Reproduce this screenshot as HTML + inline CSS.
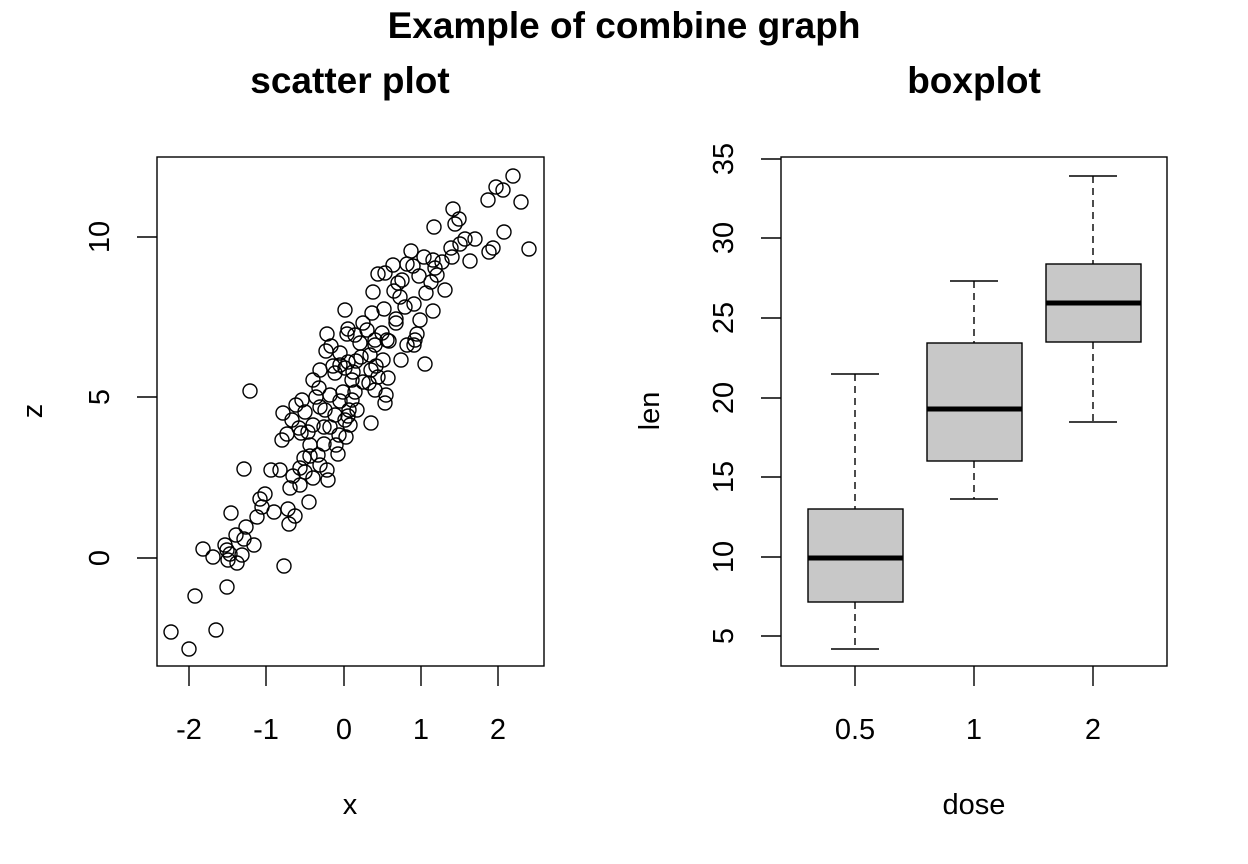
<!DOCTYPE html>
<html><head><meta charset="utf-8"><style>body{margin:0;background:#fff}svg{display:block}text{font-family:"Liberation Sans",Arial,sans-serif;fill:#000}</style></head>
<body>
<svg width="1248" height="864" viewBox="0 0 1248 864" xmlns="http://www.w3.org/2000/svg">
<rect width="1248" height="864" fill="#fff"/>
<text x="624" y="38" font-size="37" font-weight="bold" text-anchor="middle">Example of combine graph</text>
<text x="350" y="93" font-size="37" font-weight="bold" text-anchor="middle">scatter plot</text>
<text x="974" y="93" font-size="37" font-weight="bold" text-anchor="middle">boxplot</text>

<!-- left plot -->
<g stroke="#000" stroke-width="1.4" fill="none">
<rect x="157" y="157" width="387" height="509"/>
<path d="M189 666V686M266 666V686M344 666V686M421 666V686M498 666V686"/>
<path d="M157 558H137M157 397H137M157 237H137"/>
</g>
<g font-size="29" text-anchor="middle">
<text x="189" y="739">-2</text><text x="266" y="739">-1</text><text x="344" y="739">0</text><text x="421" y="739">1</text><text x="498" y="739">2</text>
<text transform="translate(109,558) rotate(-90)">0</text>
<text transform="translate(109,397) rotate(-90)">5</text>
<text transform="translate(109,237) rotate(-90)">10</text>
<text x="350" y="814">x</text>
<text transform="translate(42,411) rotate(-90)">z</text>
</g>

<!-- right plot -->
<g stroke="#000" stroke-width="1.4" fill="none">
<rect x="781" y="157" width="386" height="509"/>
<path d="M855 666V686M974 666V686M1093 666V686"/>
<path d="M781 636H761M781 557H761M781 477H761M781 398H761M781 318H761M781 238H761M781 159H761"/>
<path d="M855 374V509M855 602V649M974 281V343M974 461V499M1093 176V264M1093 342V422" stroke-dasharray="7,5"/>
<path d="M831 374H879M831 649H879M950 281H998M950 499H998M1069 176H1117M1069 422H1117"/>
<rect x="808" y="509" width="95" height="93" fill="#c8c8c8"/>
<rect x="927" y="343" width="95" height="118" fill="#c8c8c8"/>
<rect x="1046" y="264" width="95" height="78" fill="#c8c8c8"/>
<path d="M808 558H903M927 409H1022M1046 303H1141" stroke-width="5"/>
</g>
<g font-size="29" text-anchor="middle">
<text x="855" y="739">0.5</text><text x="974" y="739">1</text><text x="1093" y="739">2</text>
<text transform="translate(733,636) rotate(-90)">5</text>
<text transform="translate(733,557) rotate(-90)">10</text>
<text transform="translate(733,477) rotate(-90)">15</text>
<text transform="translate(733,398) rotate(-90)">20</text>
<text transform="translate(733,318) rotate(-90)">25</text>
<text transform="translate(733,238) rotate(-90)">30</text>
<text transform="translate(733,159) rotate(-90)">35</text>
<text x="974" y="814">dose</text>
<text transform="translate(659,411) rotate(-90)">len</text>
</g>
<g stroke="#000" stroke-width="1.4" fill="none">
<circle cx="513" cy="176" r="7"/><circle cx="496" cy="187" r="7"/><circle cx="503" cy="190" r="7"/><circle cx="488" cy="200" r="7"/><circle cx="521" cy="202" r="7"/><circle cx="453" cy="209" r="7"/><circle cx="459" cy="219" r="7"/><circle cx="455" cy="224" r="7"/><circle cx="434" cy="227" r="7"/><circle cx="465" cy="239" r="7"/><circle cx="460" cy="244" r="7"/><circle cx="475" cy="239" r="7"/><circle cx="451" cy="248" r="7"/><circle cx="493" cy="248" r="7"/><circle cx="504" cy="232" r="7"/><circle cx="529" cy="249" r="7"/><circle cx="411" cy="251" r="7"/><circle cx="424" cy="257" r="7"/><circle cx="433" cy="260" r="7"/><circle cx="452" cy="257" r="7"/><circle cx="442" cy="262" r="7"/><circle cx="437" cy="275" r="7"/><circle cx="407" cy="264" r="7"/><circle cx="470" cy="261" r="7"/><circle cx="489" cy="252" r="7"/><circle cx="419" cy="276" r="7"/><circle cx="435" cy="268" r="7"/><circle cx="385" cy="273" r="7"/><circle cx="393" cy="265" r="7"/><circle cx="402" cy="280" r="7"/><circle cx="398" cy="283" r="7"/><circle cx="413" cy="266" r="7"/><circle cx="400" cy="297" r="7"/><circle cx="384" cy="309" r="7"/><circle cx="405" cy="307" r="7"/><circle cx="426" cy="293" r="7"/><circle cx="373" cy="292" r="7"/><circle cx="445" cy="290" r="7"/><circle cx="378" cy="274" r="7"/><circle cx="394" cy="291" r="7"/><circle cx="431" cy="282" r="7"/><circle cx="414" cy="304" r="7"/><circle cx="420" cy="320" r="7"/><circle cx="417" cy="334" r="7"/><circle cx="415" cy="340" r="7"/><circle cx="372" cy="313" r="7"/><circle cx="396" cy="319" r="7"/><circle cx="375" cy="345" r="7"/><circle cx="348" cy="329" r="7"/><circle cx="347" cy="334" r="7"/><circle cx="389" cy="341" r="7"/><circle cx="407" cy="345" r="7"/><circle cx="433" cy="311" r="7"/><circle cx="345" cy="310" r="7"/><circle cx="363" cy="323" r="7"/><circle cx="367" cy="330" r="7"/><circle cx="382" cy="333" r="7"/><circle cx="396" cy="323" r="7"/><circle cx="327" cy="334" r="7"/><circle cx="355" cy="335" r="7"/><circle cx="375" cy="340" r="7"/><circle cx="387" cy="340" r="7"/><circle cx="383" cy="360" r="7"/><circle cx="425" cy="364" r="7"/><circle cx="414" cy="345" r="7"/><circle cx="331" cy="346" r="7"/><circle cx="340" cy="353" r="7"/><circle cx="361" cy="357" r="7"/><circle cx="340" cy="365" r="7"/><circle cx="356" cy="361" r="7"/><circle cx="370" cy="355" r="7"/><circle cx="371" cy="370" r="7"/><circle cx="376" cy="366" r="7"/><circle cx="401" cy="360" r="7"/><circle cx="326" cy="351" r="7"/><circle cx="333" cy="366" r="7"/><circle cx="345" cy="368" r="7"/><circle cx="360" cy="343" r="7"/><circle cx="348" cy="362" r="7"/><circle cx="353" cy="372" r="7"/><circle cx="363" cy="382" r="7"/><circle cx="320" cy="370" r="7"/><circle cx="335" cy="373" r="7"/><circle cx="313" cy="380" r="7"/><circle cx="352" cy="380" r="7"/><circle cx="378" cy="377" r="7"/><circle cx="388" cy="378" r="7"/><circle cx="319" cy="388" r="7"/><circle cx="355" cy="392" r="7"/><circle cx="375" cy="390" r="7"/><circle cx="385" cy="403" r="7"/><circle cx="369" cy="383" r="7"/><circle cx="343" cy="392" r="7"/><circle cx="330" cy="395" r="7"/><circle cx="352" cy="400" r="7"/><circle cx="340" cy="401" r="7"/><circle cx="349" cy="410" r="7"/><circle cx="386" cy="395" r="7"/><circle cx="371" cy="423" r="7"/><circle cx="350" cy="425" r="7"/><circle cx="345" cy="420" r="7"/><circle cx="250" cy="391" r="7"/><circle cx="316" cy="397" r="7"/><circle cx="302" cy="400" r="7"/><circle cx="296" cy="405" r="7"/><circle cx="305" cy="412" r="7"/><circle cx="283" cy="413" r="7"/><circle cx="292" cy="420" r="7"/><circle cx="320" cy="407" r="7"/><circle cx="287" cy="434" r="7"/><circle cx="299" cy="428" r="7"/><circle cx="313" cy="425" r="7"/><circle cx="335" cy="415" r="7"/><circle cx="330" cy="427" r="7"/><circle cx="348" cy="416" r="7"/><circle cx="310" cy="445" r="7"/><circle cx="282" cy="440" r="7"/><circle cx="301" cy="433" r="7"/><circle cx="308" cy="432" r="7"/><circle cx="324" cy="427" r="7"/><circle cx="325" cy="410" r="7"/><circle cx="357" cy="410" r="7"/><circle cx="339" cy="435" r="7"/><circle cx="324" cy="444" r="7"/><circle cx="336" cy="445" r="7"/><circle cx="346" cy="437" r="7"/><circle cx="338" cy="454" r="7"/><circle cx="318" cy="455" r="7"/><circle cx="310" cy="456" r="7"/><circle cx="327" cy="470" r="7"/><circle cx="304" cy="458" r="7"/><circle cx="300" cy="468" r="7"/><circle cx="320" cy="465" r="7"/><circle cx="328" cy="480" r="7"/><circle cx="305" cy="472" r="7"/><circle cx="293" cy="476" r="7"/><circle cx="280" cy="470" r="7"/><circle cx="271" cy="470" r="7"/><circle cx="244" cy="469" r="7"/><circle cx="313" cy="478" r="7"/><circle cx="300" cy="485" r="7"/><circle cx="290" cy="488" r="7"/><circle cx="265" cy="494" r="7"/><circle cx="288" cy="509" r="7"/><circle cx="260" cy="499" r="7"/><circle cx="274" cy="512" r="7"/><circle cx="309" cy="502" r="7"/><circle cx="295" cy="516" r="7"/><circle cx="257" cy="517" r="7"/><circle cx="262" cy="507" r="7"/><circle cx="231" cy="513" r="7"/><circle cx="246" cy="527" r="7"/><circle cx="236" cy="535" r="7"/><circle cx="225" cy="545" r="7"/><circle cx="213" cy="557" r="7"/><circle cx="228" cy="560" r="7"/><circle cx="242" cy="555" r="7"/><circle cx="254" cy="545" r="7"/><circle cx="230" cy="554" r="7"/><circle cx="227" cy="550" r="7"/><circle cx="289" cy="524" r="7"/><circle cx="284" cy="566" r="7"/><circle cx="227" cy="587" r="7"/><circle cx="195" cy="596" r="7"/><circle cx="216" cy="630" r="7"/><circle cx="171" cy="632" r="7"/><circle cx="203" cy="549" r="7"/><circle cx="189" cy="649" r="7"/><circle cx="237" cy="563" r="7"/><circle cx="244" cy="539" r="7"/>
</g>
</svg>
</body></html>
